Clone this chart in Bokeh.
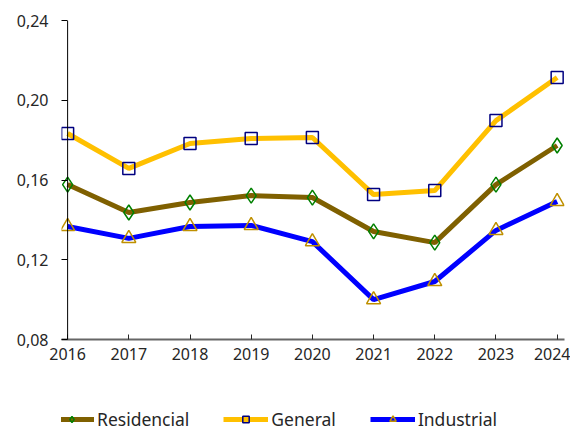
from bokeh.plotting import figure
from bokeh.layouts import column
from bokeh.models import Legend, LegendItem, FixedTicker, Range1d, Span
from bokeh.embed import file_html
from bokeh.resources import INLINE

years = [2016, 2017, 2018, 2019, 2020, 2021, 2022, 2023, 2024]
residencial = [0.1577, 0.1437, 0.1487, 0.1522, 0.1512, 0.1342, 0.1286, 0.1577, 0.1773]
general = [0.1833, 0.1658, 0.1783, 0.1808, 0.1813, 0.1527, 0.1547, 0.1898, 0.2114]
industrial = [0.1367, 0.1307, 0.1367, 0.1372, 0.1291, 0.1000, 0.1091, 0.1347, 0.1492]
y_ticks = [0.08, 0.12, 0.16, 0.20, 0.24]
y_labels = ["0,08", "0,12", "0,16", "0,20", "0,24"]
series_names = ["Residencial", "General", "Industrial"]

FONT = "Noto Sans"
PAD_L, PAD_R = 0.1, 0.12

styles = [
    dict(line="#7F6000", marker="diamond", size=15, mcolor="#008000"),
    dict(line="#FFC000", marker="square", size=12, mcolor="#000080"),
    dict(line="#0000FF", marker="triangle", size=14, mcolor="#BF9000"),
]
values = [residencial, general, industrial]

p = figure(width=570, height=380, output_backend="svg", toolbar_location=None,
           x_range=Range1d(years[0] - PAD_L, years[-1] + PAD_R),
           y_range=Range1d(y_ticks[0], y_ticks[-1]),
           min_border_left=61, min_border_right=6, min_border_top=20, min_border_bottom=41)
p.outline_line_color = None
p.xgrid.visible = False
p.ygrid.visible = False

# vertical axis line at the first year
p.add_layout(Span(location=years[0], dimension="height", line_color="black", line_width=1))

for vals, st in zip(values, styles):
    p.line(years, vals, line_color=st["line"], line_width=5)
    p.scatter(years, vals, marker=st["marker"], size=st["size"], fill_color=None,
              line_color=st["mcolor"], line_width=1.5)

p.xaxis.ticker = FixedTicker(ticks=years)
p.yaxis.ticker = FixedTicker(ticks=y_ticks)
p.yaxis.major_label_overrides = {t: l for t, l in zip(y_ticks, y_labels)}
p.xaxis.major_label_overrides = {y: str(y) for y in years}

for ax in (p.xaxis, p.yaxis):
    ax.major_label_text_font = FONT
    ax.major_label_text_font_size = "16px"
    ax.major_label_text_color = "#262626"
    ax.minor_tick_line_color = None

p.yaxis.axis_line_color = None
p.yaxis.major_tick_line_color = "black"
p.yaxis.major_tick_out = 0
p.yaxis.major_tick_in = 6
p.yaxis.major_label_standoff = 13

p.xaxis.axis_line_color = "#666666"
p.xaxis.axis_line_width = 2
p.xaxis.major_tick_line_color = "#262626"
p.xaxis.major_tick_in = 5
p.xaxis.major_tick_out = 0
p.xaxis.major_label_standoff = 8

# legend figure (same series, drawn outside its visible range; only the legend shows)
lf = figure(width=570, height=50, output_backend="svg", toolbar_location=None,
            x_axis_type=None, y_axis_type=None,
            x_range=Range1d(0, 1), y_range=Range1d(0, 1),
            min_border_left=0, min_border_right=0, min_border_top=0, min_border_bottom=0)
lf.outline_line_color = None
lf.xgrid.visible = False
lf.ygrid.visible = False
items = []
for name, vals, st in zip(series_names, values, styles):
    rl = lf.line(years, vals, line_color=st["line"], line_width=5)
    rm = lf.scatter(years, vals, marker=st["marker"], size=st["size"], fill_color=None,
                    line_color=st["mcolor"], line_width=1.5)
    items.append(LegendItem(label=name, renderers=[rl, rm]))

legend = Legend(items=items, orientation="horizontal", location=(-12, -1))
legend.label_text_font = FONT
legend.label_text_font_size = "17.5px"
legend.label_text_color = "#262626"
legend.border_line_color = None
legend.background_fill_alpha = 0
legend.glyph_width = 45
legend.glyph_height = 16
legend.label_height = 16
legend.padding = 0
legend.spacing = 34
legend.label_standoff = 3
legend.margin = 0
lf.add_layout(legend)

layout = column(p, lf, spacing=0)
open("out.html", "w").write(file_html(layout, INLINE))
